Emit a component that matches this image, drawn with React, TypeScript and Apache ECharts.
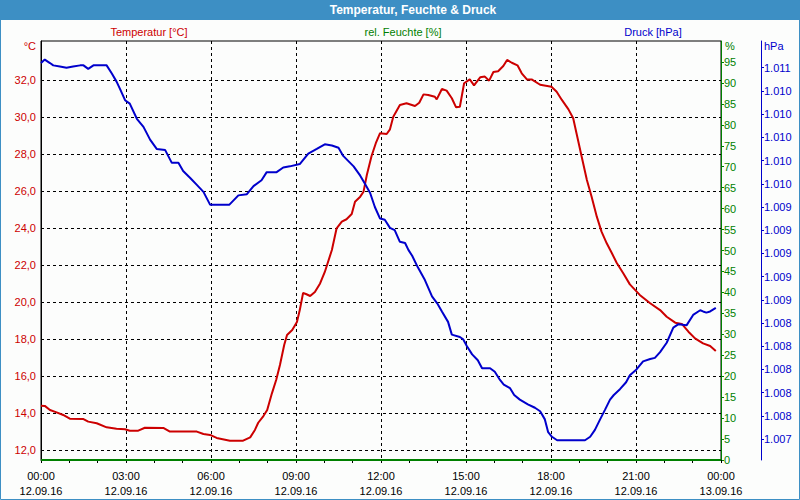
import { useEffect, useRef } from "react";
import * as echarts from "echarts";

const TITLE = "Temperatur, Feuchte & Druck";
const LEGEND_TEMP = "Temperatur [°C]";
const LEGEND_HUM = "rel. Feuchte [%]";
const LEGEND_PRESS = "Druck [hPa]";

const xTickMinutes = [0, 180, 360, 540, 720, 900, 1080, 1260, 1440];
const xTickTimes = ["00:00", "03:00", "06:00", "09:00", "12:00", "15:00", "18:00", "21:00", "00:00"];
const xTickDates = ["12.09.16", "12.09.16", "12.09.16", "12.09.16", "12.09.16", "12.09.16", "12.09.16", "12.09.16", "13.09.16"];

const tempTicks = [12, 14, 16, 18, 20, 22, 24, 26, 28, 30, 32];
const humTicks = [0, 5, 10, 15, 20, 25, 30, 35, 40, 45, 50, 55, 60, 65, 70, 75, 80, 85, 90, 95];
const pressTicks = [1007.8, 1008.0, 1008.2, 1008.4, 1008.6, 1008.8, 1009.0, 1009.2, 1009.4, 1009.6, 1009.8, 1010.0, 1010.2, 1010.4, 1010.6, 1010.8, 1011.0];

const tempMinutes = [0, 8, 19, 33, 47, 61, 90, 100, 118, 139, 160, 178, 188, 206, 220, 259, 273, 330, 344, 358, 372, 400, 428, 443, 453, 460, 471, 479, 489, 498, 506, 515, 521, 532, 542, 548, 555, 561, 570, 580, 591, 601, 616, 626, 637, 647, 658, 665, 676, 683, 690, 700, 709, 718, 732, 739, 746, 760, 774, 792, 801, 810, 820, 834, 838, 849, 859, 870, 879, 887, 896, 908, 917, 930, 940, 949, 958, 968, 979, 987, 997, 1009, 1018, 1029, 1039, 1057, 1081, 1092, 1103, 1117, 1127, 1134, 1145, 1156, 1166, 1177, 1187, 1198, 1209, 1219, 1233, 1247, 1268, 1290, 1311, 1325, 1343, 1357, 1371, 1385, 1402, 1417, 1429];
const tempValues = [14.42, 14.41, 14.19, 14.06, 13.92, 13.72, 13.70, 13.56, 13.47, 13.25, 13.18, 13.15, 13.07, 13.07, 13.23, 13.22, 13.02, 13.02, 12.89, 12.84, 12.68, 12.53, 12.53, 12.71, 13.11, 13.50, 13.86, 14.19, 15.09, 15.81, 16.62, 17.70, 18.24, 18.51, 18.95, 19.59, 20.51, 20.46, 20.35, 20.57, 21.03, 21.65, 22.84, 24.01, 24.37, 24.50, 24.78, 25.45, 25.72, 25.99, 26.89, 27.92, 28.61, 29.15, 29.11, 29.36, 30.04, 30.68, 30.77, 30.62, 30.80, 31.25, 31.22, 31.12, 30.98, 31.54, 31.45, 31.04, 30.55, 30.58, 31.85, 32.06, 31.74, 32.17, 32.21, 31.99, 32.46, 32.50, 32.78, 33.11, 32.96, 32.82, 32.39, 32.06, 32.06, 31.77, 31.66, 31.39, 30.95, 30.44, 29.96, 29.15, 27.88, 26.62, 25.72, 24.64, 23.83, 23.20, 22.66, 22.15, 21.58, 20.98, 20.41, 19.96, 19.59, 19.23, 18.91, 18.84, 18.42, 18.06, 17.79, 17.65, 17.38];

const pressMinutes = [0, 8, 19, 26, 40, 54, 68, 83, 90, 100, 111, 139, 150, 160, 167, 178, 188, 203, 217, 231, 245, 263, 277, 291, 301, 316, 330, 344, 358, 399, 418, 436, 450, 467, 478, 499, 513, 527, 548, 566, 584, 601, 616, 630, 640, 662, 676, 686, 697, 707, 718, 728, 739, 749, 760, 771, 778, 786, 798, 813, 828, 839, 849, 862, 870, 887, 894, 902, 913, 925, 934, 951, 961, 972, 980, 993, 1002, 1014, 1031, 1046, 1057, 1067, 1074, 1082, 1093, 1152, 1163, 1173, 1184, 1194, 1205, 1213, 1226, 1239, 1247, 1261, 1275, 1290, 1300, 1311, 1325, 1339, 1350, 1367, 1381, 1396, 1402, 1409, 1417, 1429];
const pressValues = [1011.04, 1011.07, 1011.04, 1011.02, 1011.01, 1011.00, 1011.01, 1011.02, 1011.02, 1010.99, 1011.02, 1011.02, 1010.95, 1010.88, 1010.82, 1010.72, 1010.69, 1010.56, 1010.49, 1010.38, 1010.30, 1010.29, 1010.18, 1010.18, 1010.11, 1010.05, 1009.99, 1009.93, 1009.82, 1009.82, 1009.90, 1009.91, 1009.98, 1010.03, 1010.10, 1010.10, 1010.14, 1010.15, 1010.17, 1010.26, 1010.30, 1010.34, 1010.33, 1010.31, 1010.24, 1010.15, 1010.07, 1010.00, 1009.92, 1009.80, 1009.70, 1009.69, 1009.62, 1009.60, 1009.50, 1009.49, 1009.43, 1009.38, 1009.28, 1009.17, 1009.03, 1008.97, 1008.90, 1008.81, 1008.70, 1008.68, 1008.66, 1008.60, 1008.53, 1008.48, 1008.41, 1008.41, 1008.38, 1008.31, 1008.27, 1008.24, 1008.18, 1008.14, 1008.10, 1008.07, 1008.04, 1007.97, 1007.86, 1007.82, 1007.79, 1007.79, 1007.82, 1007.88, 1007.97, 1008.05, 1008.14, 1008.18, 1008.23, 1008.29, 1008.35, 1008.40, 1008.47, 1008.49, 1008.50, 1008.55, 1008.63, 1008.76, 1008.79, 1008.78, 1008.87, 1008.91, 1008.90, 1008.89, 1008.90, 1008.93];

const humMinutes = [0, 1440];
const humValues = [0, 0];

const FONT = '"Liberation Sans", Arial, sans-serif';
const RED = "#cc0000";
const GREEN = "#008000";
const BLUE = "#0000cc";
const FRAME = "#3d8fc4";
const BG = "#fcfdfc";

const pair = (xs: number[], ys: number[]) => xs.map((x, i) => [x, ys[i]]);

export default function App() {
  const ref = useRef<HTMLDivElement>(null);
  useEffect(() => {
    if (!ref.current) return;
    const chart = echarts.init(ref.current, undefined, { renderer: "svg" });
    const dashed = { color: "#000", width: 1, type: [3, 3] as any };
    chart.setOption({
      animation: false,
      backgroundColor: BG,
      textStyle: { fontFamily: FONT, fontSize: 11 },
      grid: {
        left: 41, top: 41, width: 680, height: 419, containLabel: false,
        show: true, borderColor: "#000", borderWidth: 1, backgroundColor: "transparent",
      },
      xAxis: {
        type: "value", min: 0, max: 1440, interval: 180,
        axisLine: { show: true, lineStyle: { color: "#000", width: 1 } },
        axisTick: { show: true, length: 3, lineStyle: { color: "#000" } },
        minorTick: { show: true, splitNumber: 3, length: 3, lineStyle: { color: "#000" } },
        splitLine: { show: true, lineStyle: dashed },
        axisLabel: {
          color: "#000", fontFamily: FONT, fontSize: 11, margin: 8, lineHeight: 15,
          showMinLabel: true, showMaxLabel: true,
          formatter: (v: number) => {
            const i = xTickMinutes.indexOf(Math.round(v));
            return i >= 0 ? xTickTimes[i] + "\n" + xTickDates[i] : "";
          },
        },
      },
      yAxis: [
        {
          type: "value", position: "left", min: 11.486, max: 34.135,
          axisLine: { show: true, lineStyle: { color: "#000", width: 1 } },
          axisTick: { show: false, customValues: tempTicks },
          axisLabel: {
            customValues: tempTicks, color: RED, fontFamily: FONT, fontSize: 11, margin: 5,
            formatter: (v: number) => v.toFixed(1).replace(".", ","),
          },
          splitLine: { show: true, lineStyle: dashed },
        },
        {
          type: "value", position: "right", min: 0, max: 100,
          axisLine: { show: true, lineStyle: { color: GREEN, width: 1 } },
          axisTick: { show: true, length: 3, customValues: humTicks, lineStyle: { color: GREEN } },
          axisLabel: { customValues: humTicks, color: GREEN, fontFamily: FONT, fontSize: 11, margin: 3 },
          splitLine: { show: false },
        },
        {
          type: "value", position: "right", offset: 40, min: 1007.62, max: 1011.23,
          axisLine: { show: true, lineStyle: { color: BLUE, width: 1 } },
          axisTick: { show: true, length: 3, customValues: pressTicks, lineStyle: { color: BLUE } },
          axisLabel: {
            customValues: pressTicks, color: BLUE, fontFamily: FONT, fontSize: 11, margin: 3,
            formatter: (v: number) => {
              const s = String(Math.floor(v + 1e-6));
              return s.slice(0, 1) + "." + s.slice(1);
            },
          },
          splitLine: { show: false },
        },
      ],
      graphic: [
        { type: "rect", z: 100, shape: { x: 0, y: 0, width: 800, height: 20 }, style: { fill: FRAME } },
        { type: "rect", z: 100, shape: { x: 0.5, y: 0.5, width: 799, height: 499 }, style: { fill: "none", stroke: FRAME, lineWidth: 1 } },
        { type: "text", z: 101, x: 413, y: 10, style: { text: TITLE, fill: "#fff", font: 'bold 12px "Liberation Sans", Arial, sans-serif', align: "center", verticalAlign: "middle", textAlign: "center", textVerticalAlign: "middle" } },
        { type: "text", z: 101, x: 149, y: 32, style: { text: LEGEND_TEMP, fill: RED, font: '11px "Liberation Sans", Arial, sans-serif', align: "center", verticalAlign: "middle", textAlign: "center", textVerticalAlign: "middle" } },
        { type: "text", z: 101, x: 403, y: 32, style: { text: LEGEND_HUM, fill: GREEN, font: '11px "Liberation Sans", Arial, sans-serif', align: "center", verticalAlign: "middle", textAlign: "center", textVerticalAlign: "middle" } },
        { type: "text", z: 101, x: 653, y: 32, style: { text: LEGEND_PRESS, fill: BLUE, font: '11px "Liberation Sans", Arial, sans-serif', align: "center", verticalAlign: "middle", textAlign: "center", textVerticalAlign: "middle" } },
        { type: "text", z: 101, x: 36, y: 46, style: { text: "°C", fill: RED, font: '11px "Liberation Sans", Arial, sans-serif', align: "right", verticalAlign: "middle", textAlign: "right", textVerticalAlign: "middle" } },
        { type: "text", z: 101, x: 725, y: 46, style: { text: "%", fill: GREEN, font: '11px "Liberation Sans", Arial, sans-serif', align: "left", verticalAlign: "middle", textAlign: "left", textVerticalAlign: "middle" } },
        { type: "text", z: 101, x: 764, y: 46, style: { text: "hPa", fill: BLUE, font: '11px "Liberation Sans", Arial, sans-serif', align: "left", verticalAlign: "middle", textAlign: "left", textVerticalAlign: "middle" } },
      ],
      series: [
        {
          type: "line", name: "rel. Feuchte", yAxisIndex: 1, data: pair(humMinutes, humValues),
          symbol: "none", showSymbol: false, lineStyle: { color: GREEN, width: 2 }, itemStyle: { color: GREEN }, z: 3,
        },
        {
          type: "line", name: "Temperatur", yAxisIndex: 0, data: pair(tempMinutes, tempValues),
          symbol: "none", showSymbol: false, lineStyle: { color: RED, width: 2 }, itemStyle: { color: RED }, z: 4,
        },
        {
          type: "line", name: "Druck", yAxisIndex: 2, data: pair(pressMinutes, pressValues),
          symbol: "none", showSymbol: false, lineStyle: { color: BLUE, width: 2 }, itemStyle: { color: BLUE }, z: 5,
        },
      ],
    });
    return () => chart.dispose();
  }, []);
  return <div ref={ref} style={{ position: "absolute", left: 0, top: 0, width: 800, height: 500 }} />;
}
